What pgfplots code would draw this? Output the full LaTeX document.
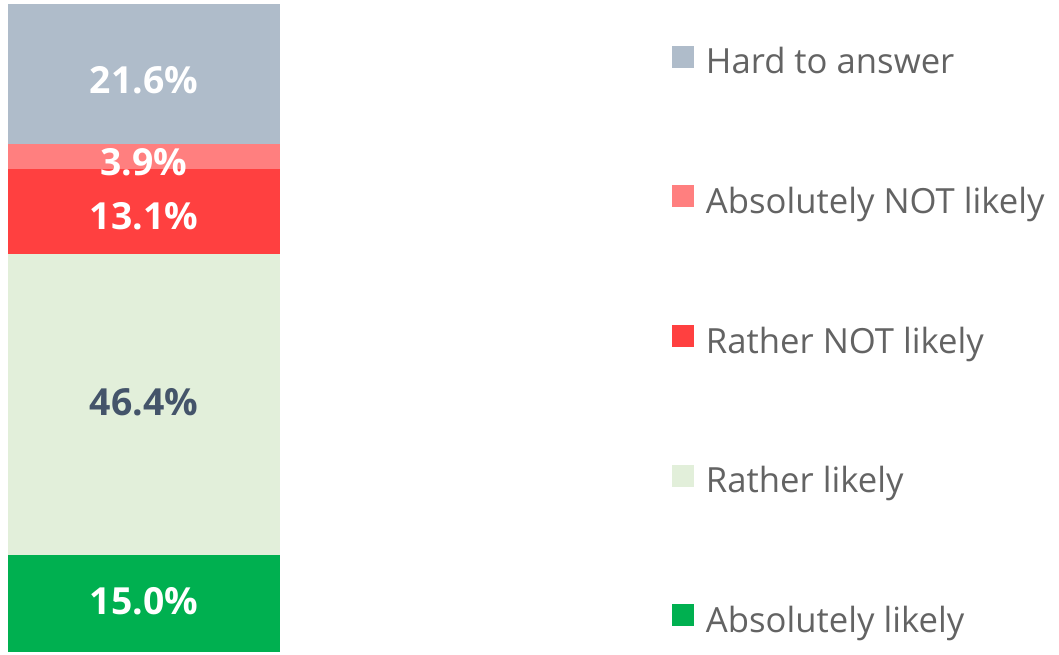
\documentclass[border=0pt]{standalone}
\usepackage{fontspec}
\setmainfont{Open Sans}
\usepackage{pgfplots}
\pgfplotsset{compat=1.18}
\definecolor{chard}{HTML}{AFBCCA}
\definecolor{cabsnot}{HTML}{FF7F7F}
\definecolor{crnot}{HTML}{FF4040}
\definecolor{crlikely}{HTML}{E2EFDA}
\definecolor{cabs}{HTML}{00B050}
\definecolor{legtext}{HTML}{636363}
\definecolor{darklab}{HTML}{44546A}
\tikzset{lab/.style={font=\bfseries\fontsize{28}{32}\selectfont, anchor=center, inner sep=0pt}}
\begin{document}
\begin{tikzpicture}[x=0.75pt,y=0.75pt]
\useasboundingbox (0,0) rectangle (1059,654);
\begin{axis}[
  at={(6pt,1.5pt)}, anchor=south west,
  scale only axis, width=204pt, height=486pt,
  hide axis,
  ybar stacked, bar width=204pt,
  xmin=0, xmax=1, ymin=0, ymax=100,
  enlargelimits=false, clip=false,
  reverse legend,
  legend image code/.code={\fill[#1] (0pt,-1.5pt) rectangle (16.5pt,15pt);},
  legend style={at={(axis description cs:2.441,0.9355)}, anchor=north west,
    draw=none, fill=none, inner sep=0pt, outer sep=0pt,
    font=\fontsize{26}{30}\selectfont, text=legtext,
    row sep=78.7pt, column sep=9pt,
    nodes={inner sep=0pt, outer sep=0pt, text height=17pt, text depth=5pt}},
  legend cell align=left,
]
\addplot[fill=cabs, draw=none] coordinates {(0.5,15.0)};
\addlegendentry{Absolutely likely}
\addplot[fill=crlikely, draw=none] coordinates {(0.5,46.4)};
\addlegendentry{Rather likely}
\addplot[fill=crnot, draw=none] coordinates {(0.5,13.1)};
\addlegendentry{Rather NOT likely}
\addplot[fill=cabsnot, draw=none] coordinates {(0.5,3.9)};
\addlegendentry{Absolutely NOT likely}
\addplot[fill=chard, draw=none] coordinates {(0.5,21.6)};
\addlegendentry{Hard to answer}
\end{axis}
\node[lab, text=white] at (144,53) {15.0\%};
\node[lab, text=darklab] at (144,252) {46.4\%};
\node[lab, text=white] at (144,438) {13.1\%};
\node[lab, text=white] at (144,492) {3.9\%};
\node[lab, text=white] at (144,574) {21.6\%};
\end{tikzpicture}
\end{document}
